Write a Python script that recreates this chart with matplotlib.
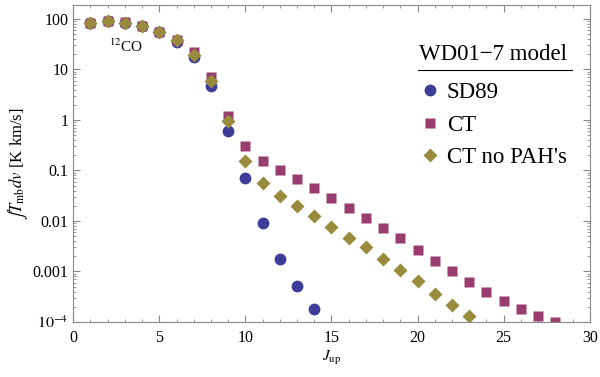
import numpy as np
import matplotlib
matplotlib.use("Agg")
import matplotlib.pyplot as plt
from matplotlib.ticker import FixedLocator, LogLocator, NullFormatter, MultipleLocator

plt.rcParams['font.family'] = ['Liberation Serif', 'DejaVu Serif']
plt.rcParams['mathtext.fontset'] = 'stix'

# CO integrated intensities vs upper J level
j_sd89 = np.arange(1, 15)
sd89 = [82, 90, 83, 71, 54, 35, 18, 4.7, 0.6, 0.071, 0.0093, 0.0018, 0.00052, 0.00018]

j_ct = np.arange(1, 29)
ct = [84, 92, 86, 73, 56, 38, 22, 7.2, 1.2, 0.31, 0.155, 0.10, 0.068, 0.044,
      0.029, 0.018, 0.0117, 0.0071, 0.0045, 0.0027, 0.0016, 0.0010, 0.00063,
      0.00040, 0.00026, 0.00018, 0.00013, 0.00010]

j_nopah = np.arange(1, 24)
ct_nopah = [83, 91, 85, 73, 55, 38, 19.5, 5.9, 0.95, 0.155, 0.056, 0.031, 0.0195,
            0.0123, 0.0077, 0.0047, 0.0030, 0.0018, 0.00105, 0.00064, 0.00036,
            0.00022, 0.00013]

yticks = [100, 10, 1, 0.1, 0.01, 0.001, 1e-4]
ylabels = ['100', '10', '1', '0.1', '0.01', '0.001', r'$10^{-4}$']

c_blue = '#3d3d99'
c_mag = '#993d71'
c_olive = '#998b3d'

fig = plt.figure(figsize=(6, 3.77), dpi=100)
ax = fig.add_axes([0.122, 0.146, 0.861, 0.841])

ax.plot(j_sd89, sd89, 'o', color=c_blue, ms=8.5, mec='none', label='SD89')
ax.plot(j_ct, ct, 's', color=c_mag, ms=7, mec='none', label='CT')
ax.plot(j_nopah, ct_nopah, 'D', color=c_olive, ms=7, mec='none', label="CT no PAH's")

ax.set_yscale('log')
ax.set_xlim(0, 30)
ax.set_ylim(1e-4, 190)
ax.yaxis.set_major_locator(FixedLocator(yticks))
ax.set_yticklabels(ylabels)
ax.yaxis.set_minor_locator(LogLocator(base=10, subs=np.arange(2, 10)))
ax.yaxis.set_minor_formatter(NullFormatter())
ax.xaxis.set_major_locator(MultipleLocator(5))
ax.xaxis.set_minor_locator(MultipleLocator(1))

for s in ax.spines.values():
    s.set_color('#888888')
    s.set_linewidth(0.8)
ax.tick_params(which='both', direction='in', top=True, right=True, color='#888888', labelsize=11.5)
ax.tick_params(which='major', length=5)
ax.tick_params(which='minor', length=2.5)
ax.tick_params(axis='x', pad=6)

ax.set_xlabel(r'$J_{\rm up}$', fontsize=11)
ax.set_ylabel(r'$\int T_{\rm mb} dv$ [K km/s]', fontsize=12, labelpad=2)
ax.xaxis.set_label_coords(0.5, -0.085)

ax.text(2.1, 22, r'$^{12}$CO', fontsize=11)

# legend: title with a rule under it, then the entries
ax.text(0.669, 0.845, 'WD01−7 model', transform=ax.transAxes, fontsize=16.5, va='center')
ax.plot([0.667, 0.965], [0.795, 0.795], transform=ax.transAxes, color='k', lw=0.8)
leg = ax.legend(loc='upper left', bbox_to_anchor=(0.652, 0.785), frameon=False,
                fontsize=16.5, handletextpad=0.3, handlelength=0.9, labelspacing=0.5,
                borderaxespad=0)

fig.savefig('out.png', dpi=100)
